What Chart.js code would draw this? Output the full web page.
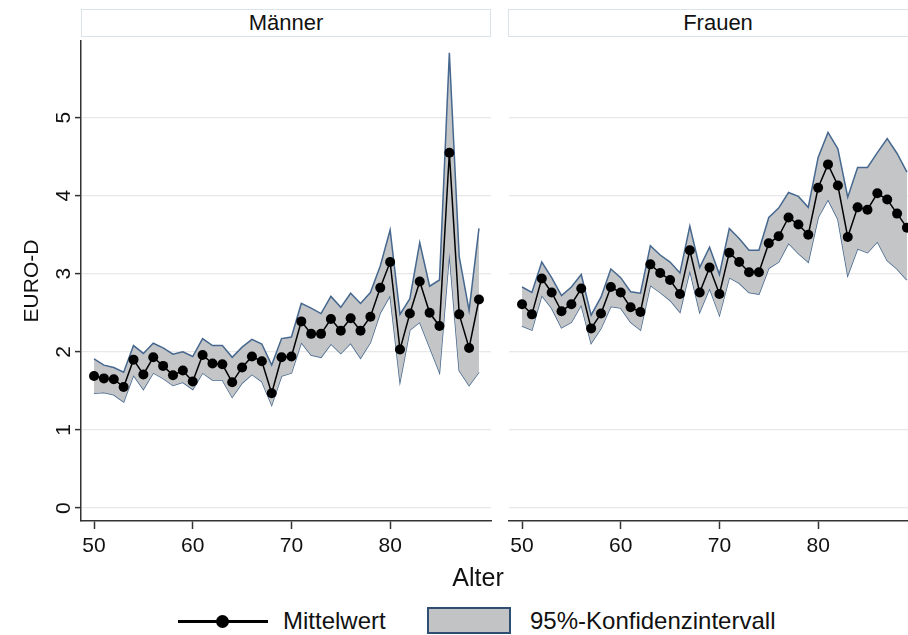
<!DOCTYPE html>
<html>
<head>
<meta charset="utf-8">
<script src="https://cdn.jsdelivr.net/npm/chart.js@4.4.1/dist/chart.umd.min.js"></script>
<style>
  body { margin: 0; width: 908px; height: 635px; overflow: hidden; background: #fff;
         font-family: "Liberation Sans", Arial, sans-serif; color: #111; position: relative; }
  .strip { position: absolute; top: 9px; height: 28px; border: 1.5px solid #dae4e8; box-sizing: border-box;
           text-align: center; font-size: 22px; line-height: 25px; background: #fff; }
  #c1 { position: absolute; left: 0; top: 36px; }
  #c2 { position: absolute; left: 500px; top: 36px; }
  #xtitle { position: absolute; left: 378px; width: 200px; top: 563px; text-align: center; font-size: 25px; }
  .ltxt { position: absolute; top: 607px; font-size: 24px; line-height: 28px; white-space: nowrap; }
  #lline { position: absolute; left: 178px; top: 620px; width: 90px; height: 3px; background: #000; }
  #ldot { position: absolute; left: 216px; top: 615px; width: 13px; height: 13px; border-radius: 50%; background: #000; }
  #lbox { position: absolute; left: 427px; top: 607px; width: 84px; height: 27px; box-sizing: border-box;
          background: #c2c3c5; border: 2px solid #2f4e72; }
</style>
</head>
<body>
<div class="strip" style="left:81px;width:410px">Männer</div>
<div class="strip" style="left:508px;width:420px">Frauen</div>
<canvas id="c1" width="500" height="529"></canvas>
<canvas id="c2" width="430" height="529"></canvas>
<div id="xtitle">Alter</div>
<div id="lline"></div><div id="ldot"></div>
<div class="ltxt" style="left:283px">Mittelwert</div>
<div id="lbox"></div>
<div class="ltxt" style="left:530px">95%-Konfidenzintervall</div>

<script>
// Alter
const ages = [50,51,52,53,54,55,56,57,58,59,60,61,62,63,64,65,66,67,68,69,
              70,71,72,73,74,75,76,77,78,79,80,81,82,83,84,85,86,87,88,89];
const xTicks = [50, 60, 70, 80];
const yTicks = [0, 1, 2, 3, 4, 5];

// Männer
const menMean  = [1.69,1.66,1.65,1.55,1.90,1.71,1.93,1.82,1.70,1.76,1.62,1.96,1.85,1.84,1.61,1.80,1.94,1.88,1.47,1.93,
                  1.94,2.39,2.23,2.23,2.42,2.27,2.43,2.27,2.45,2.82,3.15,2.03,2.49,2.90,2.50,2.33,4.55,2.48,2.05,2.67];
const menUpper = [1.91,1.83,1.80,1.74,2.08,1.98,2.11,2.05,1.97,2.00,1.94,2.17,2.08,2.08,1.93,2.06,2.16,2.10,1.83,2.17,
                  2.19,2.62,2.56,2.49,2.71,2.57,2.75,2.62,2.76,3.10,3.56,2.48,2.68,3.40,2.84,2.92,5.83,3.22,2.53,3.58];
const menLower = [1.47,1.48,1.45,1.36,1.70,1.52,1.73,1.66,1.57,1.61,1.52,1.73,1.64,1.64,1.42,1.60,1.71,1.62,1.32,1.69,
                  1.73,2.12,1.96,1.93,2.10,1.98,2.11,1.92,2.12,2.50,2.72,1.62,2.28,2.38,2.06,1.74,3.27,1.76,1.57,1.74];

// Frauen
const womenMean  = [2.61,2.48,2.94,2.76,2.52,2.61,2.81,2.30,2.49,2.83,2.76,2.57,2.51,3.12,3.01,2.92,2.74,3.30,2.76,3.08,
                    2.74,3.27,3.15,3.02,3.02,3.39,3.48,3.72,3.63,3.50,4.10,4.40,4.13,3.47,3.85,3.82,4.03,3.95,3.77,3.59];
const womenUpper = [2.83,2.76,3.15,2.95,2.72,2.83,2.99,2.47,2.70,3.06,2.95,2.77,2.75,3.36,3.24,3.15,3.01,3.61,3.08,3.34,
                    2.99,3.58,3.45,3.30,3.30,3.72,3.84,4.04,3.99,3.85,4.49,4.81,4.60,3.98,4.36,4.36,4.55,4.73,4.54,4.30];
const womenLower = [2.33,2.28,2.72,2.56,2.31,2.38,2.60,2.11,2.30,2.58,2.56,2.38,2.28,2.85,2.76,2.66,2.51,3.04,2.51,2.81,
                    2.47,2.95,2.88,2.76,2.74,3.07,3.15,3.39,3.26,3.15,3.72,3.95,3.70,2.98,3.32,3.27,3.41,3.17,3.06,2.92];

const FONT = '"Liberation Sans", Arial, sans-serif';

function pts(vals) {
  return ages.map((a, i) => ({ x: a, y: vals[i] }));
}

function makeDatasets(mean, upper, lower) {
  return [
    { label: 'Mittelwert', data: pts(mean), borderColor: '#000', borderWidth: 1.5,
      pointRadius: 5, pointBackgroundColor: '#000', pointBorderWidth: 0, fill: false },
    { label: 'obere Grenze', data: pts(upper), borderColor: '#46688f', borderWidth: 1.5,
      pointRadius: 0, backgroundColor: '#c4c5c7', fill: '+1' },
    { label: 'untere Grenze', data: pts(lower), borderColor: '#46688f', borderWidth: 1.5,
      pointRadius: 0, fill: false }
  ];
}

// y-Beschriftung gedreht (wie Stata)
const rotatedYLabels = {
  id: 'rotatedYLabels',
  afterDraw(chart) {
    const s = chart.scales.y;
    const ctx = chart.ctx;
    ctx.save();
    ctx.fillStyle = '#111';
    ctx.font = '21px ' + FONT;
    ctx.textAlign = 'center';
    ctx.textBaseline = 'middle';
    yTicks.forEach(v => {
      ctx.save();
      ctx.translate(64, s.getPixelForValue(v));
      ctx.rotate(-Math.PI / 2);
      ctx.fillText(String(v), 0, 0);
      ctx.restore();
    });
    ctx.restore();
  }
};

function makeChart(id, mean, upper, lower, isLeft) {
  return new Chart(document.getElementById(id), {
    type: 'line',
    data: { datasets: makeDatasets(mean, upper, lower) },
    plugins: isLeft ? [rotatedYLabels] : [],
    options: {
      responsive: false,
      animation: false,
      layout: { padding: { left: 0, right: isLeft ? 9 : 11, top: 0, bottom: 0 } },
      plugins: { legend: { display: false }, tooltip: { enabled: false } },
      elements: { line: { tension: 0 } },
      scales: {
        x: {
          type: 'linear', min: 48.68, max: 90.22,
          afterBuildTicks: s => { s.ticks = xTicks.map(v => ({ value: v })); },
          afterFit: s => { s.height = 44; s.paddingLeft = 0; s.paddingRight = 0; },
          grid: { drawOnChartArea: false, tickLength: 8, tickColor: '#333', tickWidth: 1.5 },
          border: { color: '#333', width: 1.5 },
          ticks: { color: '#111', font: { family: FONT, size: 21 }, padding: 5, maxRotation: 0 }
        },
        y: {
          type: 'linear', min: -0.166, max: 5.98,
          afterBuildTicks: s => { s.ticks = yTicks.map(v => ({ value: v })); },
          afterFit: s => { s.width = isLeft ? 81 : 9; s.paddingTop = 0; s.paddingBottom = 0; },
          grid: { color: '#e8e8e8', lineWidth: 1.2, drawTicks: isLeft, tickLength: 6,
                  tickColor: '#333', tickWidth: 1.5 },
          border: { display: isLeft, color: '#333', width: 1.5 },
          ticks: { display: false },
          title: { display: isLeft, text: 'EURO-D', color: '#111',
                   font: { family: FONT, size: 21 }, padding: { top: 20, bottom: 0 } }
        }
      }
    }
  });
}

makeChart('c1', menMean, menUpper, menLower, true);
makeChart('c2', womenMean, womenUpper, womenLower, false);
</script>
</body>
</html>
